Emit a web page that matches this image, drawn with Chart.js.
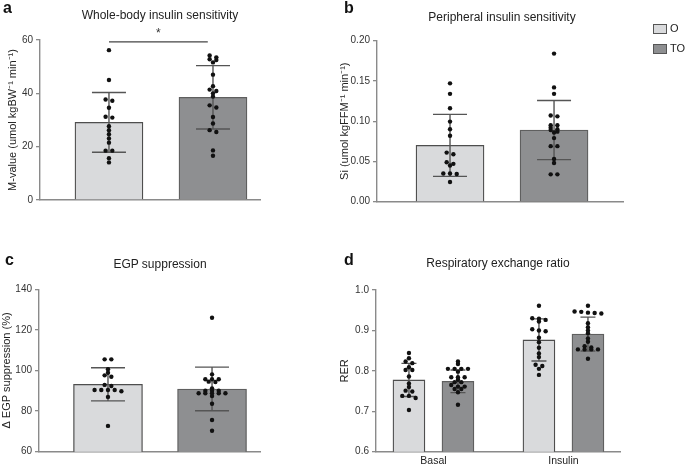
<!DOCTYPE html>
<html>
<head>
<meta charset="utf-8">
<script src="https://cdn.jsdelivr.net/npm/chart.js@4.4.0/dist/chart.umd.min.js"></script>
<style>
  html, body { margin: 0; padding: 0; background: #fff; }
  body { width: 685px; height: 470px; position: relative; overflow: hidden;
         font-family: 'Liberation Sans', Arial, sans-serif; color: #222; }
  canvas { position: absolute; }
  .letter { position: absolute; font-weight: bold; font-size: 16px; line-height: 16px; color: #111; }
  .title { position: absolute; font-size: 12px; line-height: 14px; white-space: nowrap; transform: translateX(-50%); }
  .legend { position: absolute; left: 653px; font-size: 11px; line-height: 11px; white-space: nowrap; }
  .legend span.box { display: inline-block; width: 12px; height: 8px; border: 1px solid #555; vertical-align: middle; margin-right: 3px; }
</style>
</head>
<body>
<canvas id="chart-a" width="330" height="235" style="left:0;top:0"></canvas>
<canvas id="chart-b" width="355" height="235" style="left:330px;top:0"></canvas>
<canvas id="chart-c" width="330" height="235" style="left:0;top:235px"></canvas>
<canvas id="chart-d" width="355" height="235" style="left:330px;top:235px"></canvas>

<div class="letter" style="left:3px;top:0">a</div>
<div class="letter" style="left:344px;top:0">b</div>
<div class="letter" style="left:5px;top:252px">c</div>
<div class="letter" style="left:344px;top:252px">d</div>

<div class="title" style="left:160px;top:8px">Whole-body insulin sensitivity</div>
<div class="title" style="left:502px;top:10px">Peripheral insulin sensitivity</div>
<div class="title" style="left:160px;top:257px">EGP suppression</div>
<div class="title" style="left:498px;top:256px">Respiratory exchange ratio</div>

<div class="legend" style="top:23px"><span class="box" style="background:#d9dadc"></span>O</div>
<div class="legend" style="top:43px"><span class="box" style="background:#8e8f91"></span>TO</div>

<script>
// ---- data ----
const groups = ['O', 'TO'];

// a: whole-body insulin sensitivity (M-value)
const mValueMean = [29.1, 38.5];
const mValueSd = [11.2, 11.9];
const mValueO = [56.2, 45.0, 37.2, 37.7, 34.6, 30.9, 31.2, 27.7, 26.2, 24.7, 23.1, 21.5, 18.5, 18.5, 15.7, 14.1];
const mValueTO = [54.2, 53.5, 52.8, 52.5, 51.6, 47.0, 42.7, 41.4, 40.9, 40.0, 38.8, 35.5, 34.7, 31.1, 28.7, 26.2, 25.5, 18.6, 16.6];
const mValueTicks = [0, 60, 20];

// b: peripheral insulin sensitivity (Si)
const siMean = [0.070, 0.089];
const siSd = [0.0385, 0.0367];
const siO = [0.147, 0.134, 0.116, 0.0995, 0.090, 0.082, 0.061, 0.059, 0.049, 0.047, 0.045, 0.035, 0.035, 0.0345, 0.0245];
const siTO = [0.184, 0.142, 0.134, 0.107, 0.106, 0.095, 0.095, 0.092, 0.090, 0.089, 0.087, 0.086, 0.079, 0.069, 0.069, 0.053, 0.048, 0.034, 0.034];
const siTicks = [0, 0.2, 0.05];

// c: EGP suppression
const egpMean = [93.2, 90.9];
const egpSd = [8.15, 10.75];
const egpO = [105.5, 105.5, 100.6, 98.9, 97.6, 96.9, 92.9, 92.4, 90.4, 90.4, 90.4, 90.4, 89.8, 87.0, 72.7];
const egpTO = [126.0, 98.1, 95.7, 95.7, 95.7, 94.5, 94.3, 91.2, 90.0, 90.0, 90.0, 88.8, 88.8, 88.8, 88.8, 88.8, 87.4, 83.6, 75.6, 70.3];
const egpTicks = [60, 140, 20];

// d: respiratory exchange ratio
const rerGroups = ['Basal', 'Insulin'];
const rerMeanO = [0.7775, 0.8765];
const rerSdO = [0.041, 0.052];
const rerMeanTO = [0.7742, 0.891];
const rerSdTO = [0.028, 0.042];
const rerBasalO = [0.844, 0.831, 0.823, 0.819, 0.809, 0.802, 0.802, 0.786, 0.769, 0.760, 0.751, 0.749, 0.738, 0.738, 0.733, 0.703];
const rerBasalTO = [0.823, 0.817, 0.805, 0.805, 0.805, 0.805, 0.798, 0.784, 0.784, 0.784, 0.778, 0.772, 0.772, 0.765, 0.761, 0.761, 0.755, 0.755, 0.747, 0.716];
const rerInsulinO = [0.961, 0.930, 0.929, 0.926, 0.922, 0.903, 0.900, 0.898, 0.882, 0.871, 0.857, 0.843, 0.834, 0.815, 0.812, 0.805, 0.790];
const rerInsulinTO = [0.961, 0.947, 0.946, 0.944, 0.943, 0.942, 0.918, 0.908, 0.900, 0.893, 0.880, 0.872, 0.861, 0.858, 0.853, 0.853, 0.853, 0.853, 0.830];
const rerTicks = [0.6, 1.0, 0.1];

// significance bracket in panel a
const sigLevel = 59.3;
const sigFrom = 1;
const sigTo = 1.95;

// ---- styling ----
Chart.defaults.font.family = "'Liberation Sans', Arial, sans-serif";
Chart.defaults.color = '#333';

const AXIS = '#8a8a8a';
const FILL = ['#d9dadc', '#8e8f91'];
const EDGE = ['#4e4e4e', '#5f5f5f'];
const ERR = '#555';

// rows of near-equal values are spread sideways, centred on the bar
function swarm(values, center, step, rowH) {
    const order = values.map((v, i) => i).sort((a, b) => values[b] - values[a]);
    const rows = [];
    order.forEach(i => {
        const row = rows[rows.length - 1];
        if (row && values[row[0]] - values[i] <= rowH) row.push(i);
        else rows.push([i]);
    });
    const pts = [];
    rows.forEach(row => row.forEach((i, k) => {
        pts.push({ x: center + (k - (row.length - 1) / 2) * step, y: values[i] });
    }));
    return pts;
}

const errorBars = {
    id: 'errorBars',
    afterDatasetDraw(chart, args) {
        const ds = chart.data.datasets[args.index];
        if (!ds.sd) return;
        const { ctx, scales: { x, y } } = chart;
        ctx.save();
        ctx.strokeStyle = ERR;
        ctx.lineWidth = 1.4;
        ds.data.forEach((p, i) => {
            const px = x.getPixelForValue(p.x);
            const top = y.getPixelForValue(p.y + ds.sd[i]);
            const bot = y.getPixelForValue(p.y - ds.sd[i]);
            ctx.beginPath();
            ctx.moveTo(px, top); ctx.lineTo(px, bot);
            ctx.moveTo(px - ds.cap, top); ctx.lineTo(px + ds.cap, top);
            ctx.moveTo(px - ds.cap, bot); ctx.lineTo(px + ds.cap, bot);
            ctx.stroke();
        });
        ctx.restore();
    }
};

const sigBracket = {
    id: 'sigBracket',
    afterDraw(chart) {
        const { ctx, scales: { x, y } } = chart;
        const yy = y.getPixelForValue(sigLevel);
        const x1 = x.getPixelForValue(sigFrom);
        const x2 = x.getPixelForValue(sigTo);
        ctx.save();
        ctx.strokeStyle = '#444';
        ctx.lineWidth = 1.2;
        ctx.beginPath();
        ctx.moveTo(x1, yy); ctx.lineTo(x2, yy);
        ctx.stroke();
        ctx.fillStyle = '#333';
        ctx.font = "12px 'Liberation Sans', Arial, sans-serif";
        ctx.textAlign = 'center';
        ctx.textBaseline = 'alphabetic';
        ctx.fillText('*', (x1 + x2) / 2, yy - 5);
        ctx.restore();
    }
};

function buildPanel(id, p) {
    const canvas = document.getElementById(id);
    const W = canvas.width, H = canvas.height;
    const [yMin, yMax, yStep] = p.ticks;
    const rowH = (yMax - yMin) * 2.2 / (p.area.bottom - p.area.top);
    const dots = [];
    p.dots.forEach(d => dots.push(...swarm(d.values, d.x, p.step, rowH)));

    return new Chart(canvas, {
        type: 'bar',
        data: {
            datasets: [
                {
                    type: 'scatter',
                    order: 0,
                    data: dots,
                    pointRadius: 2.2,
                    pointHoverRadius: 2.2,
                    pointBackgroundColor: '#111',
                    pointBorderWidth: 0
                },
                {
                    type: 'bar',
                    order: 1,
                    data: p.bars.map(b => ({ x: b.x, y: b.y })),
                    sd: p.bars.map(b => b.sd),
                    cap: p.cap,
                    backgroundColor: p.bars.map(b => FILL[b.g]),
                    borderColor: p.bars.map(b => EDGE[b.g]),
                    borderWidth: 1.3,
                    barThickness: p.barWidth
                }
            ]
        },
        options: {
            responsive: false,
            animation: false,
            layout: { padding: { left: p.padLeft, top: p.area.top, right: W - p.area.right, bottom: 0 } },
            plugins: { legend: { display: false }, tooltip: { enabled: false } },
            scales: {
                x: {
                    type: 'linear',
                    min: p.xRange[0],
                    max: p.xRange[1],
                    offset: false,
                    grid: { display: false, drawTicks: false, offset: false },
                    border: { color: AXIS, width: 1.4 },
                    afterBuildTicks: s => { if (p.xLabels) s.ticks = p.xLabels.map((_, i) => ({ value: i + 1 })); },
                    ticks: p.xLabels ? {
                        display: true,
                        autoSkip: false,
                        maxRotation: 0,
                        padding: 3,
                        color: '#222',
                        font: { size: 10.5 },
                        callback: v => p.xLabels[v - 1]
                    } : { display: false },
                    afterFit: s => { s.height = H - p.area.bottom; }
                },
                y: {
                    min: yMin,
                    max: yMax,
                    ticks: {
                        stepSize: yStep,
                        padding: 3,
                        color: '#333',
                        font: { size: 10 },
                        callback: v => v.toFixed(p.decimals)
                    },
                    grid: { drawOnChartArea: false, drawTicks: true, tickLength: 4, color: AXIS, lineWidth: 1.3 },
                    border: { color: AXIS, width: 1.4 },
                    title: { display: true, text: p.yTitle, color: '#222', font: { size: 11 }, padding: { top: p.titlePad, bottom: 0 } },
                    afterFit: s => { s.width = p.area.left - p.padLeft; }
                }
            }
        },
        plugins: [errorBars].concat(p.extra || [])
    });
}

const twoBars = (means, sds) => means.map((m, i) => ({ x: i + 1, y: m, sd: sds[i], g: i }));

buildPanel('chart-a', {
    yTitle: 'M-value (umol kgBW\u207B\u00B9 min\u207B\u00B9)',
    ticks: mValueTicks, decimals: 0,
    area: { left: 40, top: 40, right: 260, bottom: 200 }, padLeft: 0, titlePad: 6,
    xRange: [0.337, 2.452], barWidth: 68, cap: 17, step: 0.0644,
    bars: twoBars(mValueMean, mValueSd),
    dots: [{ values: mValueO, x: 1 }, { values: mValueTO, x: 2 }],
    extra: [sigBracket]
});

buildPanel('chart-b', {
    yTitle: 'Si (umol kgFFM\u207B\u00B9 min\u207B\u00B9)',
    ticks: siTicks, decimals: 2,
    area: { left: 47, top: 40.7, right: 293, bottom: 201.7 }, padLeft: 2, titlePad: 6,
    xRange: [0.298, 2.663], barWidth: 68, cap: 17, step: 0.0644,
    bars: twoBars(siMean, siSd),
    dots: [{ values: siO, x: 1 }, { values: siTO, x: 2 }]
});

buildPanel('chart-c', {
    yTitle: '\u0394 EGP suppression (%)',
    ticks: egpTicks, decimals: 0,
    area: { left: 39, top: 54.3, right: 260, bottom: 216.7 }, padLeft: 0, titlePad: 0.5,
    xRange: [0.337, 2.461], barWidth: 69, cap: 17, step: 0.0644,
    bars: twoBars(egpMean, egpSd),
    dots: [{ values: egpO, x: 1 }, { values: egpTO, x: 2 }]
});

const rerShift = 0.1885;
buildPanel('chart-d', {
    yTitle: 'RER',
    ticks: rerTicks, decimals: 1,
    area: { left: 46, top: 55, right: 290, bottom: 216.7 }, padLeft: 2, titlePad: 6,
    xRange: [0.558, 2.435], barWidth: 32, cap: 7.5, step: 0.0515,
    xLabels: rerGroups,
    bars: [
        { x: 1 - rerShift, y: rerMeanO[0], sd: rerSdO[0], g: 0 },
        { x: 1 + rerShift, y: rerMeanTO[0], sd: rerSdTO[0], g: 1 },
        { x: 2 - rerShift, y: rerMeanO[1], sd: rerSdO[1], g: 0 },
        { x: 2 + rerShift, y: rerMeanTO[1], sd: rerSdTO[1], g: 1 }
    ],
    dots: [
        { values: rerBasalO, x: 1 - rerShift },
        { values: rerBasalTO, x: 1 + rerShift },
        { values: rerInsulinO, x: 2 - rerShift },
        { values: rerInsulinTO, x: 2 + rerShift }
    ]
});
</script>
</body>
</html>
